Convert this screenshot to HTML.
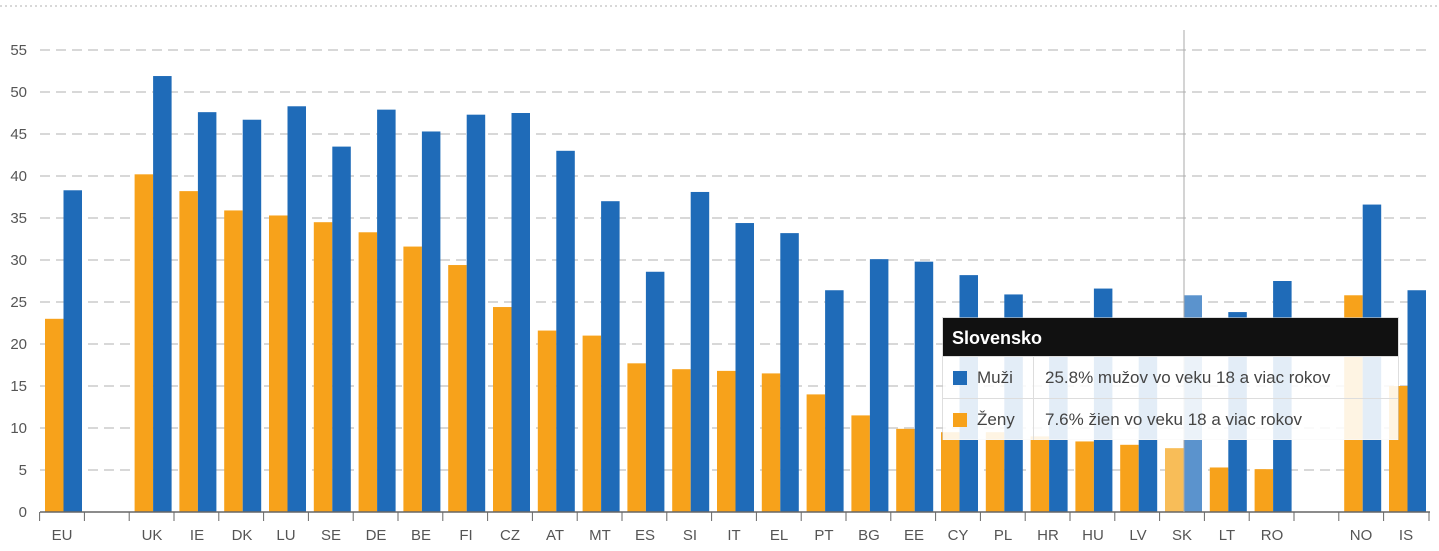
<!DOCTYPE html>
<html><head><meta charset="utf-8"><style>
body{margin:0;background:#fff;width:1439px;height:551px;overflow:hidden;font-family:"Liberation Sans",sans-serif}
svg{position:absolute;left:0;top:0}
.tt{position:absolute;left:943px;top:318px;width:455px;height:121px;font-family:"Liberation Sans",sans-serif;box-shadow:0 0 0 1px rgba(200,200,200,0.6)}
.hd{background:#111;color:#fff;font-weight:bold;font-size:18px;height:38px;line-height:40px;padding-left:9px}
.row{background:rgba(255,255,255,0.88);height:41px;line-height:41px;font-size:17px;color:#444;border-top:1px solid #ddd;position:relative}
.sq{position:absolute;left:10px;top:14px;width:14px;height:14px}
.lab{position:absolute;left:34px}
.val{position:absolute;left:90px;border-left:1px solid #ddd;padding-left:11px;height:41px}
</style></head><body>
<svg id="s" width="1439" height="551" xmlns="http://www.w3.org/2000/svg">
<line x1="0" y1="6" x2="1439" y2="6" stroke="#ccc" stroke-width="1.5" stroke-dasharray="2,3"/>
<g font-size="15" fill="#555" text-anchor="end">
<text x="27" y="517">0</text><text x="27" y="475">5</text><text x="27" y="433">10</text><text x="27" y="391">15</text><text x="27" y="349">20</text><text x="27" y="307">25</text><text x="27" y="265">30</text><text x="27" y="223">35</text><text x="27" y="181">40</text><text x="27" y="139">45</text><text x="27" y="97">50</text><text x="27" y="55">55</text>
</g>
<g id="g"></g>
<g font-size="15" fill="#555" text-anchor="middle">
<text x="62" y="540">EU</text><text x="152" y="540">UK</text><text x="197" y="540">IE</text><text x="242" y="540">DK</text><text x="286" y="540">LU</text><text x="331" y="540">SE</text><text x="376" y="540">DE</text><text x="421" y="540">BE</text><text x="466" y="540">FI</text><text x="510" y="540">CZ</text><text x="555" y="540">AT</text><text x="600" y="540">MT</text><text x="645" y="540">ES</text><text x="690" y="540">SI</text><text x="734" y="540">IT</text><text x="779" y="540">EL</text><text x="824" y="540">PT</text><text x="869" y="540">BG</text><text x="914" y="540">EE</text><text x="958" y="540">CY</text><text x="1003" y="540">PL</text><text x="1048" y="540">HR</text><text x="1093" y="540">HU</text><text x="1138" y="540">LV</text><text x="1182" y="540">SK</text><text x="1227" y="540">LT</text><text x="1272" y="540">RO</text><text x="1361" y="540">NO</text><text x="1406" y="540">IS</text>
</g>
</svg>
<div class="tt">
<div class="hd">Slovensko</div>
<div class="row"><div class="sq" style="background:#1f6bb8"></div><span class="lab">Muži</span><span class="val">25.8% mužov vo veku 18 a viac rokov</span></div>
<div class="row"><div class="sq" style="background:#f7a21b"></div><span class="lab">Ženy</span><span class="val">7.6% žien vo veku 18 a viac rokov</span></div>
</div>
<script>
var d=[[23,38.3],null,[40.2,51.9],[38.2,47.6],[35.9,46.7],[35.3,48.3],[34.5,43.5],[33.3,47.9],[31.6,45.3],[29.4,47.3],[24.4,47.5],[21.6,43],[21,37],[17.7,28.6],[17,38.1],[16.8,34.4],[16.5,33.2],[14,26.4],[11.5,30.1],[9.9,29.8],[9.5,28.2],[9.5,25.9],[9,21],[8.4,26.6],[8,21.4],[7.6,25.8],[5.3,23.8],[5.1,27.5],null,[25.8,36.6],[15,26.4]];
var h='';
for(var v=5;v<=55;v+=5){var y=512-v*8.4;h+='<line x1="40" y1="'+y+'" x2="1430" y2="'+y+'" stroke="#ccc" stroke-width="1.5" stroke-dasharray="10,6"/>';}
for(var i=0;i<d.length;i++){var c=62+i*44.8;if(d[i]){var sk=i==25;
h+='<rect x="'+(c-17)+'" y="'+(512-d[i][0]*8.4)+'" width="18.5" height="'+(d[i][0]*8.4)+'" fill="'+(sk?'#f8bd58':'#f7a21b')+'"/>';
h+='<rect x="'+(c+1.5)+'" y="'+(512-d[i][1]*8.4)+'" width="18.5" height="'+(d[i][1]*8.4)+'" fill="'+(sk?'#5b93cd':'#1f6bb8')+'"/>';}
var tx=c-22.4;h+='<line x1="'+tx+'" y1="512" x2="'+tx+'" y2="521" stroke="#666"/>';}
h+='<line x1="1429" y1="512" x2="1429" y2="521" stroke="#666"/>';
h+='<line x1="40" y1="512" x2="1430" y2="512" stroke="#666" stroke-width="1.5"/>';
h+='<line x1="1184" y1="30" x2="1184" y2="512" stroke="#aaa" stroke-width="1"/>';
document.getElementById('g').innerHTML=h;
</script>
</body></html>
